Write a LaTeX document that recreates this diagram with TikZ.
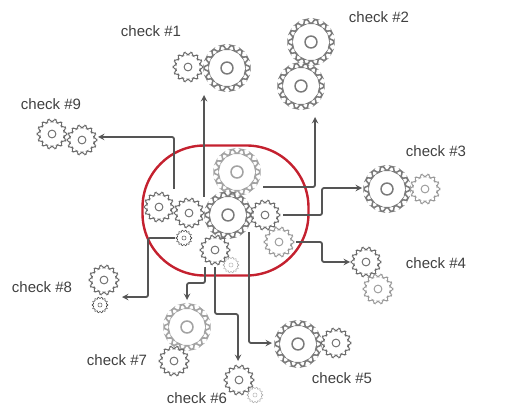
\documentclass[tikz,border=0pt]{standalone}
\usepackage{fontspec}
\setmainfont{Liberation Sans}
\usetikzlibrary{arrows}
\definecolor{ringRed}{HTML}{C4212F}
\definecolor{lineGray}{HTML}{555555}
\tikzstyle{gearDark} = [draw=black!58, line width=0.95pt]
\tikzstyle{gearBig} = [draw=black!52, line width=1.5pt]
\tikzstyle{gearGray} = [draw=black!40, line width=0.95pt]
\tikzstyle{gearPale} = [draw=black!36, line width=1.6pt]
\tikzstyle{gearTiny} = [draw=black!35, line width=0.4pt]
\tikzstyle{gearInk} = [draw=black!80, line width=0.4pt]
\tikzstyle{label} = [font=\fontsize{15}{18}\selectfont, text=black!75]
\tikzstyle{flowArrow} = [line width=1.8pt, draw=lineGray, ->, >=stealth, rounded corners=2pt]
% name, x, y, outer radius, style
\newcommand{\gear}[5]{%
  \pgfmathsetmacro{\ro}{#4}
  \pgfmathsetmacro{\ri}{#4*0.81}
  \pgfmathsetmacro{\hub}{#4*0.26}
  \node[circle, inner sep=0pt, minimum size=2*\ro pt+3pt] (#1) at (#2,#3) {};
  \begin{scope}[shift={(#2,#3)}]
    \draw[#5, rounded corners=0.09*\ro pt] (-12.857:\ri pt)
      \foreach \a in {0,25.714,...,340} {
        -- ({\a-8}:\ri pt) -- ({\a-5}:\ro pt) -- ({\a+5}:\ro pt) -- ({\a+8}:\ri pt)
      } -- cycle;
    \draw[#5] (0,0) circle (\hub pt);
  \end{scope}
}
\begin{document}
\begin{tikzpicture}[x=1pt,y=-1pt]
	\useasboundingbox (0,0) rectangle (511,414);
	%gears in the ring
	\gear{hubTop}{237}{172}{23}{gearPale}
	\gear{hubMain}{228}{215}{23}{gearBig}
	\gear{hubLeft}{159}{207}{15}{gearDark}
	\gear{hubMid}{189}{213}{15}{gearDark}
	\gear{hubRight}{265}{215}{15}{gearDark}
	\gear{hubLow}{279}{242}{15}{gearGray}
	\gear{hubBottom}{215}{250}{15}{gearDark}
	\gear{hubTiny}{231}{265}{8}{gearTiny}
	\gear{hubDot}{184}{238}{8}{gearInk}
	%gears of the checks
	\gear{oneSmall}{188}{67}{15}{gearDark}
	\gear{oneBig}{227}{68}{23}{gearBig}
	\gear{twoTop}{311}{42}{23}{gearBig}
	\gear{twoLow}{301}{86}{23}{gearBig}
	\gear{threeBig}{387}{189}{23}{gearBig}
	\gear{threeSmall}{425}{189}{15}{gearGray}
	\gear{fourTop}{366}{262}{15}{gearDark}
	\gear{fourLow}{378}{289}{15}{gearGray}
	\gear{fiveBig}{298}{344}{23}{gearBig}
	\gear{fiveSmall}{336}{343}{15}{gearDark}
	\gear{sixBig}{239}{380}{15}{gearDark}
	\gear{sixTiny}{255}{395}{8}{gearTiny}
	\gear{sevenBig}{187}{327}{23}{gearPale}
	\gear{sevenSmall}{174}{361}{15}{gearDark}
	\gear{eightBig}{104}{280}{15}{gearDark}
	\gear{eightDot}{100}{305}{8}{gearInk}
	\gear{nineLeft}{52}{134}{15}{gearDark}
	\gear{nineRight}{82}{140}{15}{gearDark}

	%ring
	\node[draw=ringRed, line width=2.4pt, rounded corners=62pt, minimum width=166pt, minimum height=130pt, inner sep=0pt](ring) at (225.5,210.5){};

	%labels
	\node[label](labelOne) at (151,31){check \#1};
	\node[label](labelTwo) at (379,17){check \#2};
	\node[label](labelThree) at (436,151){check \#3};
	\node[label](labelFour) at (436,263){check \#4};
	\node[label](labelFive) at (342,378){check \#5};
	\node[label](labelSix) at (197,398){check \#6};
	\node[label](labelSeven) at (117,360){check \#7};
	\node[label](labelEight) at (42,287){check \#8};
	\node[label](labelNine) at (51,104){check \#9};

	%free ends
	\coordinate (outOne) at (204,197);
	\coordinate (endOne) at (204,95);
	\coordinate (outTwo) at (263,187);
	\coordinate (endTwo) at (315,117);
	\coordinate (outThree) at (283,215);
	\coordinate (midThree) at (322,200);
	\coordinate (endThree) at (362,188);
	\coordinate (outFour) at (296,242);
	\coordinate (midFour) at (322,250);
	\coordinate (endFour) at (350,262);
	\coordinate (outFive) at (249,232);
	\coordinate (endFive) at (272,343);
	\coordinate (outSix) at (215,267);
	\coordinate (midSix) at (225,314);
	\coordinate (endSix) at (238,361);
	\coordinate (outSeven) at (205,267);
	\coordinate (midSeven) at (195,283);
	\coordinate (endSeven) at (187,300);
	\coordinate (outEight) at (175,238);
	\coordinate (midEight) at (148,270);
	\coordinate (endEight) at (122,297);
	\coordinate (outNine) at (174,189);
	\coordinate (endNine) at (98,137);

	%arrows
	\draw[flowArrow](outOne)--(endOne);
	\draw[flowArrow](outTwo)-|(endTwo);
	\draw[flowArrow](outThree)-|(midThree)|-(endThree);
	\draw[flowArrow](outFour)-|(midFour)|-(endFour);
	\draw[flowArrow](outFive)|-(endFive);
	\draw[flowArrow](outSix)|-(midSix)-|(endSix);
	\draw[flowArrow](outSeven)|-(midSeven)-|(endSeven);
	\draw[flowArrow](outEight)-|(midEight)|-(endEight);
	\draw[flowArrow](outNine)|-(endNine);
\end{tikzpicture}
\end{document}
